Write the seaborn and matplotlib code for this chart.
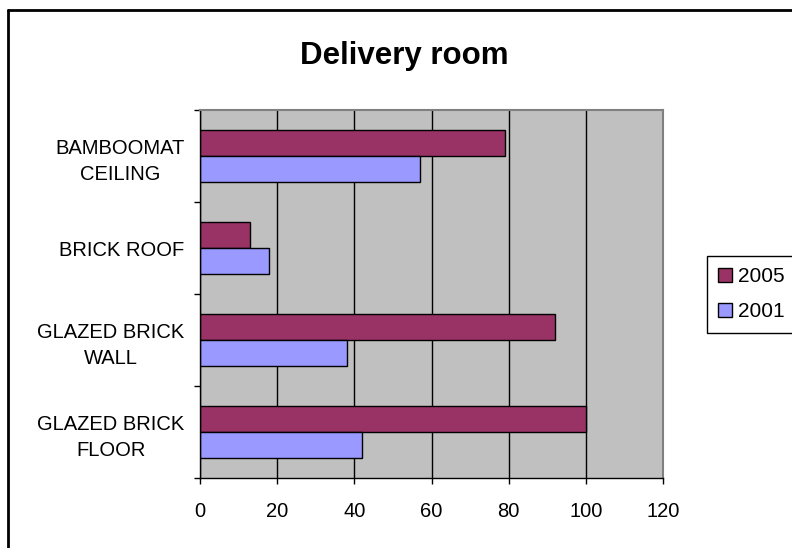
import matplotlib
matplotlib.use('Agg')
import matplotlib.pyplot as plt
import seaborn as sns
import pandas as pd
from matplotlib.lines import Line2D
from matplotlib.patches import Patch

# data
categories = ['BAMBOOMAT\nCEILING', 'BRICK ROOF', 'GLAZED BRICK\nWALL', 'GLAZED BRICK\nFLOOR']
values_2005 = [79, 13, 92, 100]
values_2001 = [57, 18, 38, 42]
years = ['2005', '2001']
colors = ['#993366', '#9999FF']
x_ticks = [0, 20, 40, 60, 80, 100, 120]

df = pd.DataFrame({
    'Item': categories * 2,
    'Year': [years[0]] * len(categories) + [years[1]] * len(categories),
    'Value': values_2005 + values_2001,
})

sns.set_style('white')
plt.rcParams['font.family'] = ['Liberation Sans', 'DejaVu Sans']
plt.rcParams['text.color'] = 'black'
plt.rcParams['xtick.color'] = 'black'
plt.rcParams['ytick.color'] = 'black'
plt.rcParams['axes.labelcolor'] = 'black'

W, H = 792, 548
fig = plt.figure(figsize=(W / 100, H / 100), dpi=100)
ax = fig.add_axes([200 / W, 1 - 478 / H, 463 / W, 368 / H])

sns.barplot(data=df, x='Value', y='Item', hue='Year', hue_order=years,
            palette=colors, orient='h', width=0.56, saturation=1,
            edgecolor='black', linewidth=1, ax=ax, legend=False)

ax.set_facecolor('#C0C0C0')
ax.set_xlim(0, 120)
ax.set_ylim(3.5, -0.5)
ax.set_xticks(x_ticks)
ax.set_xticklabels([str(t) for t in x_ticks], fontsize=14.5)
ax.grid(axis='x', color='black', linewidth=1)
ax.grid(axis='y', visible=False)
ax.set_axisbelow(True)
ax.set_xlabel('')
ax.set_ylabel('')

# y labels centred on groups, tick marks on group boundaries
ax.set_yticks(range(len(categories)))
ax.set_yticklabels(categories, fontsize=14.5, multialignment='center', linespacing=1.45)
ax.set_yticks([i - 0.5 for i in range(len(categories) + 1)], minor=True)
ax.tick_params(axis='y', which='major', length=0, pad=11)
ax.tick_params(axis='y', which='minor', length=4, width=1, color='black', direction='out', left=True)
ax.tick_params(axis='x', which='major', length=4, width=1, color='black', direction='out', bottom=True, pad=13)

for side in ['left', 'bottom']:
    ax.spines[side].set_color('black')
    ax.spines[side].set_linewidth(1)
for side in ['top', 'right']:
    ax.spines[side].set_color('#808080')
    ax.spines[side].set_linewidth(1.5)

fig.text(404 / W, 1 - 56 / H, 'Delivery room', ha='center', va='center',
         fontsize=22.5, fontweight='bold', color='black')

handles = [Patch(facecolor=c, edgecolor='black', linewidth=1) for c in colors]
leg = ax.legend(handles, years, loc='upper left', bbox_to_anchor=(707 / W, 1 - 256 / H),
                bbox_transform=fig.transFigure, fontsize=15, frameon=True, fancybox=False,
                edgecolor='black', framealpha=1, handlelength=0.65, handleheight=0.65,
                handletextpad=0.3, borderpad=0.55, labelspacing=0.75, borderaxespad=0)
leg.get_frame().set_linewidth(1)

# outer chart border (left and top edges visible)
fig.add_artist(Line2D([8 / W, 8 / W], [0, 1 - 10 / H], transform=fig.transFigure, color='black', lw=2))
fig.add_artist(Line2D([8 / W, 1], [1 - 10 / H, 1 - 10 / H], transform=fig.transFigure, color='black', lw=2))

fig.savefig('out.png', dpi=100)
